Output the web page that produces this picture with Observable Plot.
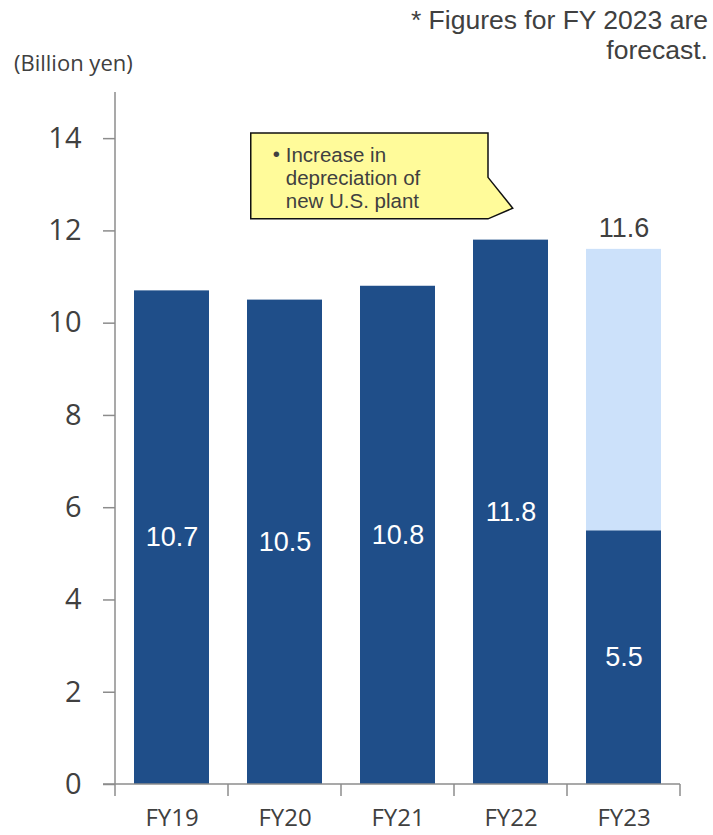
<!DOCTYPE html>
<html>
<head>
<meta charset="utf-8">
<script src="https://cdn.jsdelivr.net/npm/d3@7"></script>
<script src="https://cdn.jsdelivr.net/npm/@observablehq/plot@0.6"></script>
<style>
  html, body { margin: 0; padding: 0; background: #fff; }
  #wrap { position: relative; width: 713px; height: 835px; font-family: "Open Sans", sans-serif; color: #404040; }
  .note { position: absolute; right: 5px; font-family: "Liberation Sans", Arial, sans-serif; font-size: 26.5px; line-height: 29px; text-align: right; color: #404040; white-space: nowrap; }
  .unit { position: absolute; left: 14px; top: 47px; font-size: 22px; color: #404040; }
  #callout { position: absolute; }
</style>
</head>
<body>
<div id="wrap">
  <div class="note" style="top:6px">* Figures for FY 2023 are</div>
  <div class="note" style="top:36px">forecast.</div>
  <div class="unit">(Billion yen)</div>
</div>
<script>
const categories = ["FY19", "FY20", "FY21", "FY22", "FY23"];
const actual = [10.7, 10.5, 10.8, 11.8, 5.5];
const forecastRemainder = [0, 0, 0, 0, 6.1];
const forecastTotal = [null, null, null, null, 11.6];
const yTicks = [0, 2, 4, 6, 8, 10, 12, 14];
const calloutLines = ["Increase in", "depreciation of", "new U.S. plant"];

const dark = "#1F4E89";
const light = "#CCE1FA";
const axisGray = "#8c8c8c";

const rows = [];
categories.forEach((c, i) => {
  rows.push({cat: c, part: "actual", value: actual[i]});
  rows.push({cat: c, part: "forecast", value: forecastRemainder[i]});
});
const actualRows = categories.map((c, i) => ({cat: c, value: actual[i]}));
const totalRows = categories.map((c, i) => ({cat: c, value: forecastTotal[i]})).filter(d => d.value != null);

const W = 713, H = 835;
const mL = 115, mR = 33, mT = 92, mB = 51;

const boundaryTicks = (index, scales, values, dims) => {
  const g = d3.create("svg:g");
  const x = scales.x;
  const bw = x.bandwidth();
  const step = (dims.width - dims.marginLeft - dims.marginRight) / categories.length;
  const y0 = scales.y(0);
  const edges = categories.map(c => x(c) + bw / 2 - step / 2);
  edges.push(x(categories[categories.length - 1]) + bw / 2 + step / 2);
  g.append("line")
    .attr("x1", dims.marginLeft - 12).attr("x2", edges[edges.length - 1])
    .attr("y1", y0).attr("y2", y0)
    .attr("stroke", axisGray).attr("stroke-width", 1.5);
  g.append("line")
    .attr("x1", dims.marginLeft).attr("x2", dims.marginLeft)
    .attr("y1", dims.marginTop).attr("y2", y0)
    .attr("stroke", axisGray).attr("stroke-width", 1.5);
  for (const e of edges) {
    g.append("line")
      .attr("x1", e).attr("x2", e)
      .attr("y1", y0).attr("y2", y0 + 12)
      .attr("stroke", axisGray).attr("stroke-width", 1.5);
  }
  return g.node();
};

const plot = Plot.plot({
  width: W,
  height: H,
  marginLeft: mL,
  marginRight: mR,
  marginTop: mT,
  marginBottom: mB,
  style: {background: "transparent", overflow: "visible", fontFamily: "'Open Sans', sans-serif"},
  x: {domain: categories, paddingInner: 0.335, paddingOuter: 0.1675, label: null},
  y: {domain: [0, 15], label: null},
  color: {domain: ["actual", "forecast"], range: [dark, light]},
  marks: [
    Plot.barY(rows, Plot.stackY({x: "cat", y: "value", fill: "part", order: ["actual", "forecast"]})),
    Plot.axisY({ticks: yTicks, tickSize: 12, tickPadding: 22, stroke: axisGray, strokeWidth: 1.5, fontSize: 29, fill: "#404040", label: null}),
    Plot.axisX({tickSize: 0, tickPadding: 24, fontSize: 24, fill: "#404040", label: null}),
    boundaryTicks,
    Plot.text(actualRows, {x: "cat", y: d => d.value / 2, text: d => d.value.toFixed(1), fill: "white", fontSize: 27, fontFamily: "'Liberation Sans', Arial, sans-serif"}),
    Plot.text(totalRows, {x: "cat", y: "value", text: d => d.value.toFixed(1), fill: "#404040", fontSize: 27, dy: -21, fontFamily: "'Liberation Sans', Arial, sans-serif"})
  ]
});

const wrap = document.getElementById("wrap");
plot.style.position = "absolute";
plot.style.left = "0px";
plot.style.top = "0px";
wrap.appendChild(plot);

// Callout annotation, placed relative to the chart scales
const xs = plot.scale("x");
const ys = plot.scale("y");
const bandW = xs.bandwidth;
const xPos = c => xs.apply(c);
const boxLeft = xPos("FY20") + bandW * 0.05;
const boxRight = xPos("FY22") + bandW * 0.2;
const boxTop = ys.apply(14.11);
const boxBottom = ys.apply(12.25);
const tipX = xPos("FY22") + bandW * 0.53;
const tipY = ys.apply(12.48);
const tailTop = ys.apply(13.15);
const svg = d3.select(wrap).append("svg")
  .attr("id", "callout")
  .attr("width", W).attr("height", H)
  .style("left", "0px").style("top", "0px").style("pointer-events", "none");
const path = `M${boxLeft},${boxTop} L${boxRight},${boxTop} L${boxRight},${tailTop} L${tipX},${tipY} L${boxRight},${boxBottom} L${boxLeft},${boxBottom} Z`;
svg.append("path").attr("d", path).attr("fill", "#FFFB9A").attr("stroke", "#111").attr("stroke-width", 1.5);
const tx = boxLeft + 22;
calloutLines.forEach((t, i) => {
  svg.append("text")
    .attr("x", tx + 13)
    .attr("y", boxTop + 29 + i * 23)
    .attr("font-family", "'Liberation Sans', Arial, sans-serif")
    .attr("font-size", 20.5)
    .attr("fill", "#404040")
    .text(t);
});
svg.append("text")
  .attr("x", tx).attr("y", boxTop + 28)
  .attr("font-family", "'Liberation Sans', Arial, sans-serif")
  .attr("font-size", 20.5).attr("fill", "#404040")
  .text("•");
</script>
</body>
</html>
